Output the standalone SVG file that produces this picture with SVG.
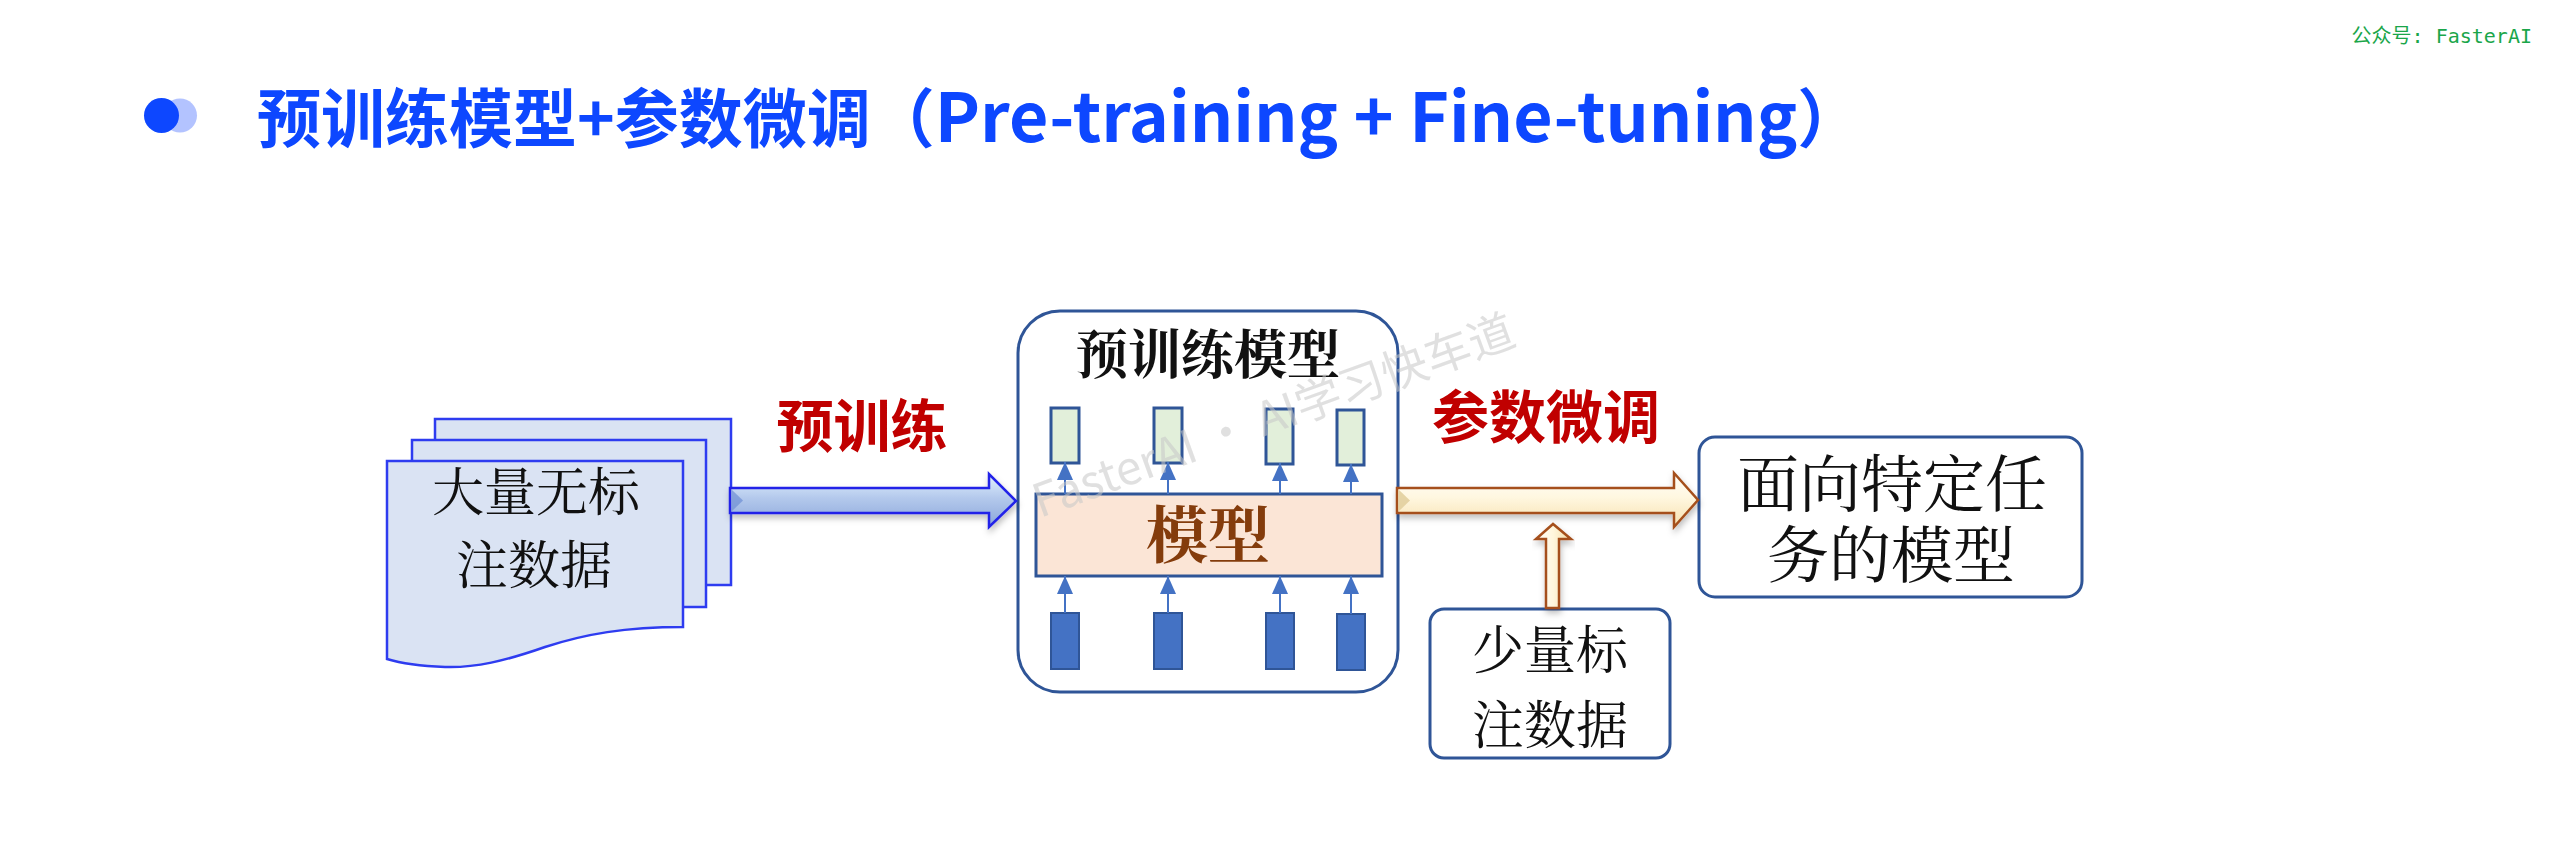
<svg xmlns="http://www.w3.org/2000/svg" width="2554" height="848" viewBox="0 0 2554 848">
<defs>
<style>
.title{font-family:"Noto Sans CJK SC","Noto Sans",sans-serif;font-weight:700;font-size:64px;fill:#0d47ff}
.wm{font-family:"DejaVu Sans Mono","Noto Sans CJK SC",monospace;font-size:20px;fill:#1aa64a}
.lbl{font-family:"Noto Serif CJK SC","Noto Sans CJK SC",serif;fill:#111;text-anchor:middle}
.red{font-family:"Noto Sans CJK SC",sans-serif;font-weight:700;fill:#c00000;text-anchor:middle;font-size:57px}
.box{fill:#fff;stroke:#2f5597;stroke-width:3}
.doc{fill:#dae3f3;stroke:#2e3cf0;stroke-width:2.5}
.up{fill:#e2efda;stroke:#2f5597;stroke-width:3}
.dn{fill:#4472c4;stroke:#2f5597;stroke-width:2}
.conn{stroke:#4472c4;stroke-width:2;fill:none}
</style>
<linearGradient id="gBlue" x1="0" y1="0" x2="0" y2="1">
<stop offset="0" stop-color="#e2f2ff"/><stop offset="0.45" stop-color="#b4c9ec"/><stop offset="1" stop-color="#8aa6da"/>
</linearGradient>
<linearGradient id="gCream" x1="0" y1="0" x2="0" y2="1">
<stop offset="0" stop-color="#fffefa"/><stop offset="0.45" stop-color="#fff7e0"/><stop offset="1" stop-color="#f6e0ae"/>
</linearGradient>
<linearGradient id="gCreamV" x1="0" y1="0" x2="1" y2="0">
<stop offset="0" stop-color="#fffefa"/><stop offset="0.5" stop-color="#fff6dc"/><stop offset="1" stop-color="#f3dca8"/>
</linearGradient>
<filter id="sh" x="-10%" y="-30%" width="120%" height="170%">
<feDropShadow dx="1" dy="4" stdDeviation="3" flood-color="#000" flood-opacity="0.25"/>
</filter>
<marker id="ah" markerUnits="userSpaceOnUse" markerWidth="18" markerHeight="16" refX="18" refY="8" orient="auto">
<path d="M0,0 L18,8 L0,16 Z" fill="#4472c4"/>
</marker>
</defs>
<rect width="2554" height="848" fill="#fff"/>

<g id="header">
<circle cx="180" cy="115.5" r="17" fill="#b3c3ff"/>
<circle cx="161.5" cy="115.5" r="17.5" fill="#0d47ff"/>
<text class="title" x="257" y="142">预训练模型+参数微调（<tspan font-size="68">Pre-training + Fine-tuning</tspan>）</text>
<text class="wm" x="2532" y="43" text-anchor="end">公众号: FasterAI</text>
</g>

<g id="node-unlabeled-data">
<rect class="doc" x="435" y="419" width="296" height="166"/>
<rect class="doc" x="412" y="440" width="294" height="167"/>
<path class="doc" d="M387,461 H683 V627 C625,627 585,634 545,647 C505,661 475,668 445,667 C420,666 400,663 387,659 Z"/>
<text class="lbl" x="536" y="511" font-size="52">大量无标</text>
<text class="lbl" x="534" y="584" font-size="52">注数据</text>
</g>

<g id="node-pretrained-model">
<rect class="box" x="1018" y="311" width="380" height="381" rx="42"/>
<text class="lbl" x="1207.5" y="374" font-size="53" font-weight="700">预训练模型</text>
<rect class="up" x="1051" y="408" width="28" height="55"/>
<rect class="up" x="1154" y="408" width="28" height="55"/>
<rect class="up" x="1266" y="409" width="27" height="55"/>
<rect class="up" x="1337" y="410" width="27" height="55"/>
<rect x="1036" y="494" width="346" height="82" fill="#fbe5d6" stroke="#2f5597" stroke-width="3"/>
<text class="lbl" x="1208" y="558" font-size="62" font-weight="700" style="fill:#843c0c">模型</text>
<rect class="dn" x="1051" y="613" width="28" height="56"/>
<rect class="dn" x="1154" y="613" width="28" height="56"/>
<rect class="dn" x="1266" y="613" width="28" height="56"/>
<rect class="dn" x="1337" y="614" width="28" height="56"/>
</g>

<g id="node-task-model">
<rect class="box" x="1699" y="437" width="383" height="160" rx="16"/>
<text class="lbl" x="1892" y="507" font-size="62">面向特定任</text>
<text class="lbl" x="1891" y="578" font-size="62">务的模型</text>
</g>

<g id="node-labeled-data">
<rect class="box" x="1430" y="609" width="240" height="149" rx="14"/>
<text class="lbl" x="1550" y="669" font-size="52">少量标</text>
<text class="lbl" x="1550" y="744" font-size="52">注数据</text>
</g>

<g id="connectors">
<g id="arrow-pretrain" filter="url(#sh)">
<path d="M730,488 H989 V474 L1016,501 L989,527 V513 H730 Z" fill="url(#gBlue)" stroke="#2222e8" stroke-width="2.5"/>
<path d="M731.5,489.5 L743,500.5 L731.5,511.5 Z" fill="#6d8fd4" opacity="0.7"/>
</g>
<g id="arrow-finetune" filter="url(#sh)">
<path d="M1397,488 H1674 V473 L1698,500 L1674,527 V513 H1397 Z" fill="url(#gCream)" stroke="#a5501c" stroke-width="2.5"/>
<path d="M1398.5,489.5 L1410,500.5 L1398.5,511.5 Z" fill="#e2cf9e" opacity="0.9"/>
</g>
<g id="arrow-small" filter="url(#sh)">
<path d="M1546,608 V539 H1536 L1553,524 L1571,539 H1559 V608 Z" fill="url(#gCreamV)" stroke="#a5501c" stroke-width="2.5"/>
</g>
<line class="conn" x1="1065" y1="494" x2="1065" y2="462" marker-end="url(#ah)"/>
<line class="conn" x1="1168" y1="494" x2="1168" y2="462" marker-end="url(#ah)"/>
<line class="conn" x1="1280" y1="494" x2="1280" y2="463" marker-end="url(#ah)"/>
<line class="conn" x1="1351" y1="494" x2="1351" y2="464" marker-end="url(#ah)"/>
<line class="conn" x1="1065" y1="613" x2="1065" y2="576" marker-end="url(#ah)"/>
<line class="conn" x1="1168" y1="613" x2="1168" y2="576" marker-end="url(#ah)"/>
<line class="conn" x1="1280" y1="613" x2="1280" y2="576" marker-end="url(#ah)"/>
<line class="conn" x1="1351" y1="614" x2="1351" y2="576" marker-end="url(#ah)"/>
</g>

<g id="label-pretrain"><text class="red" x="862" y="447">预训练</text></g>
<g id="label-finetune"><text class="red" x="1546" y="438">参数微调</text></g>

<g id="watermark" opacity="0.55">
<text x="1040" y="518" transform="rotate(-20 1040 518)" font-family="Noto Sans CJK SC, sans-serif" font-size="46" fill="#c8c8c8">FasterAI · AI学习快车道</text>
</g>
</svg>
